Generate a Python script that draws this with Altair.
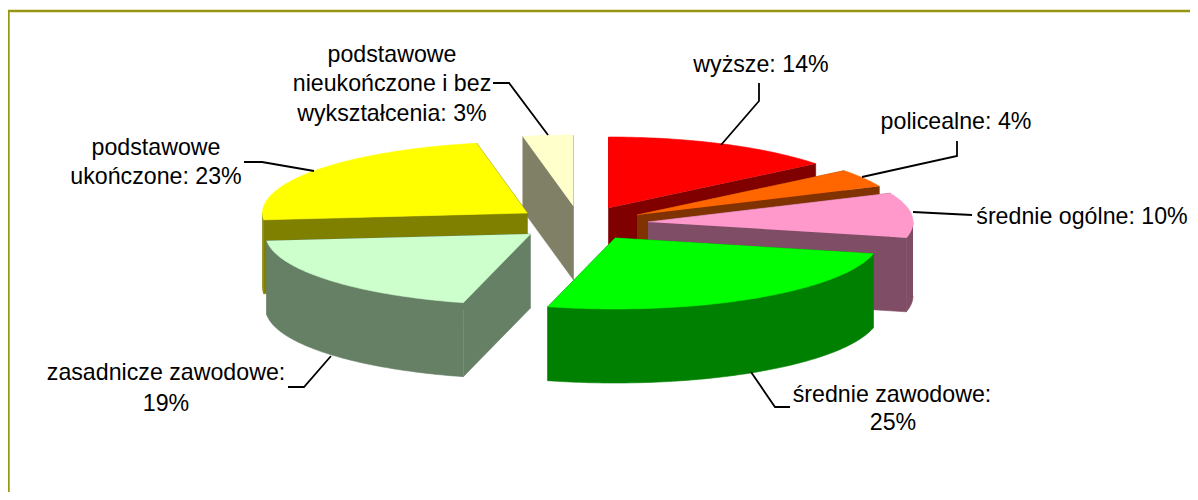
import math
import altair as alt
import pandas as pd

# --- data ---
categories = ["wyższe", "policealne", "średnie ogólne", "średnie zawodowe",
              "zasadnicze zawodowe", "podstawowe ukończone",
              "podstawowe nieukończone i bez wykształcenia"]
shares = [14, 4, 10, 25, 19, 23, 3]
top_colors = ["#FF0000", "#FF6600", "#FF99CC", "#00FF00", "#CCFFCC", "#FFFF00", "#FFFFCC"]
wall_colors = ["#800000", "#803300", "#804D66", "#008000", "#668066", "#808000", "#808066"]
# where each exploded slice's apex lands (page pixels)
apex_x = [608.5, 637, 648, 615, 530.5, 527.5, 573.5]
apex_y = [208, 215, 222, 238, 234, 213, 206]
paint_order = [6, 5, 0, 1, 2, 4, 3]

radius_x, radius_y, depth = 265, 71, 74
W, H = 1182, 484
ORIGIN = 8

label_lines = [
    ("wyższe: 14%", 761, 64.5), ("policealne: 4%", 956, 121.5),
    ("średnie ogólne: 10%", 1082, 216.5),
    ("średnie zawodowe:", 892, 395), ("25%", 893, 423),
    ("zasadnicze zawodowe:", 166, 373), ("19%", 166, 404),
    ("podstawowe", 156, 148), ("ukończone: 23%", 156, 177),
    ("podstawowe", 392, 55), ("nieukończone i bez", 392, 84),
    ("wykształcenia: 3%", 392, 114),
]
leaders = [
    [(759, 83), (759, 101), (721, 145)],
    [(957, 141), (957, 156), (862, 177)],
    [(913, 212), (972, 215)],
    [(751, 372), (775, 407), (790, 407)],
    [(331, 356), (304, 387), (288, 387)],
    [(244, 162), (262, 162), (314, 171)],
    [(493, 83), (509, 83), (548, 135)],
]
frame = [(8.5, 492), (8.5, 11), (1190, 11)]

x_scale = alt.Scale(domain=[0, W])
y_scale = alt.Scale(domain=[H, 0])
xe = alt.X("x:Q", scale=x_scale, axis=None)
ye = alt.Y("y:Q", scale=y_scale, axis=None)


def table(points):
    return pd.DataFrame({
        "x": [p[0] - ORIGIN for p in points],
        "y": [p[1] - ORIGIN for p in points],
        "i": list(range(len(points))),
    })


def polygon(points, color):
    return alt.Chart(table(points)).mark_line(fill=color, stroke=color, strokeWidth=0.6).encode(
        x=xe, y=ye, order="i:Q")


def path(points, color="#000000", width=1.8):
    return alt.Chart(table(points)).mark_line(stroke=color, strokeWidth=width).encode(
        x=xe, y=ye, order="i:Q")


total = sum(shares)
starts = [sum(shares[:i]) / total * 360 for i in range(len(shares))]
layers = []
for k in paint_order:
    a0 = starts[k]
    a1 = a0 + shares[k] / total * 360
    cx, cy = apex_x[k], apex_y[k]

    def rim(a):
        r = math.radians(a)
        return (cx + radius_x * math.sin(r), cy - radius_y * math.cos(r))

    def down(p):
        return (p[0], p[1] + depth)

    n = max(2, int(a1 - a0) + 1)
    angles = [a0 + (a1 - a0) * j / (n - 1) for j in range(n)]
    arc = [rim(a) for a in angles]
    apex = (cx, cy)
    for edge in (arc[0], arc[-1]):
        layers.append(polygon([apex, edge, down(edge), down(apex)], wall_colors[k]))
    lo, hi = max(a0, 90), min(a1, 270)
    if lo < hi:
        m = max(2, int(hi - lo) + 1)
        strip = [rim(lo + (hi - lo) * j / (m - 1)) for j in range(m)]
        layers.append(polygon(strip + [down(p) for p in reversed(strip)], wall_colors[k]))
    layers.append(polygon([apex] + arc, top_colors[k]))

for line in leaders:
    layers.append(path(line))
layers.append(path(frame, "#969614", 2.4))

labels_df = table([(t[1], t[2]) for t in label_lines])
labels_df["t"] = [t[0] for t in label_lines]
layers.append(alt.Chart(labels_df).mark_text(
    font="Liberation Sans", fontSize=23.2, color="#000000", align="center", baseline="middle"
).encode(x=xe, y=ye, text="t:N"))

chart = alt.layer(*layers).properties(
    width=W, height=H, padding=0, autosize=alt.AutoSizeParams(type="none"),
    background="#FFFFFF",
).configure_view(stroke=None)

chart.save("out.html", embed_options={"renderer": "svg", "actions": False})
